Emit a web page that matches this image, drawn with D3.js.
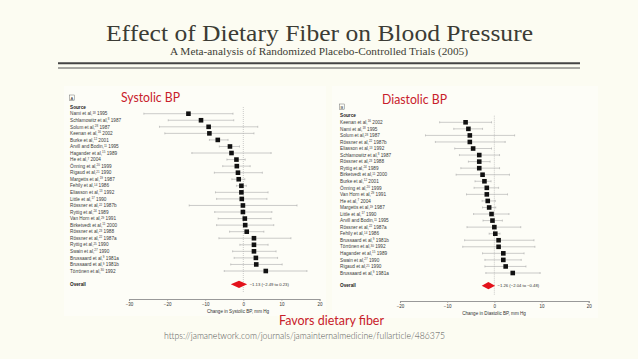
<!DOCTYPE html>
<html><head><meta charset="utf-8">
<script src="https://cdn.jsdelivr.net/npm/d3@7"></script>
<style>body{margin:0;background:#fcfcf2;}svg{display:block}</style>
</head><body>
<svg id="c" width="638" height="359"></svg>
<script>
// ---------- DATA ----------
const titleText = "Effect of Dietary Fiber on Blood Pressure";
const subtitleText = "A Meta-analysis of Randomized Placebo-Controlled Trials (2005)";
const sourceUrl = "https://jamanetwork.com/journals/jamainternalmedicine/fullarticle/486375";

const sysNames = ["Nami et al,","Schlamowitz et al,","Solum et al,","Keenan et al,","Burke et al,","Arvill and Bodin,","Hagander et al,","He et al,","Önning et al,","Rigaud et al,","Margetts et al,","Fehily et al,","Eliasson et al,","Little et al,","Rössner et al,","Ryttig et al,","Van Horn et al,","Birketvedt et al,","Rössner et al,","Rössner et al,","Ryttig et al,","Swain et al,","Brussaard et al,","Brussaard et al,","Törrönen et al,"];
const sysRefs  = ["18","8","28","16","12","11","15","7","20","21","19","14","13","17","22","24","29","11","23","22","25","27","9","9","30"];
const sysYears = ["1995","1987","1987","2002","2001","1995","1989","2004","1999","1990","1987","1986","1992","1990","1987b","1989","1991","2000","1988","1987a","1990","1990","1981a","1981b","1992"];
const sysEst = [-14.4,-11.1,-9.1,-8.9,-6.7,-3.5,-3.1,-1.8,-1.7,-1.4,-1.2,-0.5,-0.5,-0.4,-0.1,-0.1,0.4,0.5,0.9,2.8,2.8,2.8,3.3,3.4,5.9];
const sysLo  = [-26.1,-19.7,-22.0,-20.6,-8.9,-6.3,-13.5,-4.3,-5.4,-7.6,-3.0,-1.8,-7.3,-7.0,-14.2,-7.5,-6.6,-7.0,-3.6,-6.4,-0.9,-2.8,-2.4,-3.3,-5.0];
const sysHi  = [-2.7,-2.5,3.8,2.8,-4.0,-1.0,7.3,0.5,1.8,5.0,0.4,0.8,6.5,6.2,14.1,7.5,7.3,8.0,5.4,12.5,6.5,8.6,9.0,10.2,16.7];
const sysOverall = [-1.13,-2.49,0.23];
const sysTicks = [-30,-20,-10,0,10,20];

const diaNames = ["Keenan et al,","Nami et al,","Solum et al,","Rössner et al,","Eliasson et al,","Schlamowitz et al,","Rössner et al,","Ryttig et al,","Birketvedt et al,","Burke et al,","Önning et al,","Van Horn et al,","He et al,","Margetts et al,","Little et al,","Arvill and Bodin,","Rössner et al,","Fehily et al,","Brussaard et al,","Törrönen et al,","Hagander et al,","Swain et al,","Rigaud et al,","Brussaard et al,"];
const diaRefs  = ["16","18","28","22","13","8","23","24","11","12","20","29","7","19","17","11","22","14","9","30","15","27","21","9"];
const diaYears = ["2002","1995","1987","1987b","1992","1987","1988","1989","2000","2001","1999","1991","2004","1987","1990","1995","1987a","1986","1981b","1992","1989","1990","1990","1981a"];
const diaEst = [-6.1,-5.5,-5.2,-5.2,-4.5,-3.2,-3.2,-3.2,-2.5,-2.1,-1.6,-1.6,-1.4,-1.1,-0.6,-0.4,0.0,0.2,0.9,0.9,1.9,1.9,2.4,3.9];
const diaLo  = [-11.6,-8.6,-14.6,-12.5,-8.4,-7.4,-5.5,-7.1,-8.1,-4.1,-4.3,-5.9,-2.6,-2.5,-4.4,-2.4,-5.8,-1.1,-6.3,-6.7,-2.5,-2.0,-2.0,-1.8];
const diaHi  = [-0.6,-2.5,4.3,2.3,-0.6,1.1,-0.9,1.1,3.2,-0.7,0.9,2.8,0.2,0.3,3.1,1.7,5.6,1.2,8.4,8.6,6.3,5.7,6.7,9.7];
const diaOverall = [-1.26,-2.04,-0.48];
const diaTicks = [-20,-10,0,10,20];

// ---------- DRAW ----------
const svg = d3.select("#c");
const serif = "'Liberation Serif', 'Times New Roman', serif";
const narrow = "'Liberation Sans Narrow', 'Liberation Sans', Arial, sans-serif";
const red = "#c8202a";
const fmt = v => (v < 0 ? "\u2212" + Math.abs(v).toFixed(2) : v.toFixed(2));
function fitText(t, w) { t.attr("textLength", w).attr("lengthAdjust", "spacingAndGlyphs"); return t; }

// panels background
svg.append("rect").attr("x", 64).attr("y", 86).attr("width", 262).attr("height", 230).attr("fill", "#fdfdf7");
svg.append("rect").attr("x", 332).attr("y", 86).attr("width", 266).attr("height", 232).attr("fill", "#fdfdf7");

// title block
fitText(svg.append("text").attr("x", 106).attr("y", 40.5)
  .attr("font-family", serif).attr("font-size", 24).attr("fill", "#3c3c35").text(titleText), 427);
fitText(svg.append("text").attr("x", 170).attr("y", 55)
  .attr("font-family", serif).attr("font-size", 10.5).attr("fill", "#3c3c35").text(subtitleText), 298);
svg.append("line").attr("x1", 58).attr("x2", 580).attr("y1", 63.3).attr("y2", 63.3).attr("stroke", "#444").attr("stroke-width", 2);
svg.append("line").attr("x1", 58).attr("x2", 580).attr("y1", 68).attr("y2", 68).attr("stroke", "#444").attr("stroke-width", 0.9);

function panel(o) {
  const g = svg.append("g");
  const x = d3.scaleLinear().domain(o.domain).range(o.xr);
  const n = o.names.length;
  const y = d3.scalePoint().domain(d3.range(n)).range(o.yr);
  const fs = 4.7;
  g.append("rect").attr("x", o.labelX - 0.5).attr("y", o.letterY - 3).attr("width", 5).attr("height", 5.5)
    .attr("fill", "none").attr("stroke", "#555").attr("stroke-width", 0.4);
  g.append("text").attr("x", o.labelX + 2).attr("y", o.letterY + 1.7).attr("text-anchor", "middle")
    .attr("font-family", narrow).attr("font-size", 4.2).attr("fill", "#333").text(o.letter);
  g.append("text").attr("x", o.labelX).attr("y", o.sourceY + 1.7).attr("font-family", narrow)
    .attr("font-size", fs).attr("font-weight", "bold").attr("fill", "#222").text("Source");
  g.append("line").attr("x1", x(0)).attr("x2", x(0)).attr("y1", o.sourceY).attr("y2", o.axisY - 6)
    .attr("stroke", "#aaa").attr("stroke-width", 0.6).attr("stroke-dasharray", "1,1");
  const lab = g.selectAll(".lab").data(d3.range(n)).join("text")
    .attr("x", o.labelX).attr("y", i => y(i) + 1.7)
    .attr("font-family", narrow).attr("font-size", fs).attr("fill", "#3a3a3a");
  lab.append("tspan").text(i => o.names[i]);
  lab.append("tspan").attr("font-size", 3).attr("dy", -1.6).text(i => o.refs[i]);
  lab.append("tspan").attr("dy", 1.6).text(i => " " + o.years[i]);
  const ci = g.selectAll(".ci").data(d3.range(n)).join("g");
  ci.append("line").attr("x1", i => x(o.lo[i])).attr("x2", i => x(o.hi[i]))
    .attr("y1", i => y(i)).attr("y2", i => y(i)).attr("stroke", "#aaa").attr("stroke-width", 0.6);
  ci.append("line").attr("x1", i => x(o.lo[i])).attr("x2", i => x(o.lo[i]))
    .attr("y1", i => y(i) - 1).attr("y2", i => y(i) + 1).attr("stroke", "#aaa").attr("stroke-width", 0.6);
  ci.append("line").attr("x1", i => x(o.hi[i])).attr("x2", i => x(o.hi[i]))
    .attr("y1", i => y(i) - 1).attr("y2", i => y(i) + 1).attr("stroke", "#aaa").attr("stroke-width", 0.6);
  const s = 4.6;
  g.selectAll(".sq").data(d3.range(n)).join("rect")
    .attr("x", i => x(o.est[i]) - s / 2).attr("y", i => y(i) - s / 2)
    .attr("width", s).attr("height", s).attr("fill", "#111");
  g.append("text").attr("x", o.labelX).attr("y", o.overallY + 1.7).attr("font-family", narrow)
    .attr("font-size", fs).attr("font-weight", "bold").attr("fill", "#222").text("Overall");
  const [oe, ol, oh] = o.overall;
  const dh = 3.6, pad = 3;
  g.append("path").attr("d", `M${x(ol) - pad},${o.overallY} L${x(oe)},${o.overallY - dh} L${x(oh) + pad},${o.overallY} L${x(oe)},${o.overallY + dh} Z`)
    .attr("fill", "#e3121b");
  g.append("text").attr("x", x(oh) + pad + 2.5).attr("y", o.overallY + 1.5).attr("font-family", narrow)
    .attr("font-size", 4.2).attr("fill", "#333")
    .text(`${fmt(oe)} (${fmt(ol)} to ${fmt(oh)})`);
  const ax = g.append("g").attr("transform", `translate(0,${o.axisY})`)
    .call(d3.axisBottom(x).tickValues(o.ticks).tickSize(2).tickFormat(d => d < 0 ? "\u2212" + Math.abs(d) : d));
  ax.select(".domain").attr("stroke", "#999").attr("stroke-width", 1.1);
  ax.selectAll(".tick line").attr("stroke", "#999").attr("stroke-width", 0.6);
  ax.selectAll(".tick text").attr("font-family", narrow).attr("font-size", 4.5).attr("fill", "#333").attr("dy", "0.5em");
  g.append("text").attr("x", o.axisTitleX).attr("y", o.axisY + 13.5).attr("text-anchor", "middle")
    .attr("font-family", narrow).attr("font-size", 4.6).attr("fill", "#333").text(o.axisTitle);
  return x;
}

panel({
  names: sysNames, refs: sysRefs, years: sysYears, est: sysEst, lo: sysLo, hi: sysHi,
  overall: sysOverall, ticks: sysTicks, domain: [-30, 20], xr: [129, 319.5], yr: [113.7, 271],
  labelX: 70, letter: "A", letterY: 98, sourceY: 107, overallY: 284.3, axisY: 299,
  axisTitle: "Change in Systolic BP, mm Hg", axisTitleX: 238
});
panel({
  names: diaNames, refs: diaRefs, years: diaYears, est: diaEst, lo: diaLo, hi: diaHi,
  overall: diaOverall, ticks: diaTicks, domain: [-20, 20], xr: [400, 588.7], yr: [122.3, 273],
  labelX: 340, letter: "B", letterY: 107, sourceY: 115.7, overallY: 285.7, axisY: 301,
  axisTitle: "Change in Diastolic BP, mm Hg", axisTitleX: 494
});

const sans = "Lato, 'Open Sans', sans-serif";
fitText(svg.append("text").attr("x", 121).attr("y", 102).attr("font-family", sans).attr("font-size", 13)
  .attr("fill", red).text("Systolic BP"), 59);
fitText(svg.append("text").attr("x", 382).attr("y", 103.5).attr("font-family", sans).attr("font-size", 13)
  .attr("fill", red).text("Diastolic BP"), 65);
fitText(svg.append("text").attr("x", 279).attr("y", 325).attr("font-family", sans).attr("font-size", 13)
  .attr("fill", red).text("Favors dietary fiber"), 105);
fitText(svg.append("text").attr("x", 164).attr("y", 338.5).attr("font-family", sans).attr("font-weight", 300)
  .attr("font-size", 9).attr("fill", "#555").text(sourceUrl), 281);
</script>
</body></html>
